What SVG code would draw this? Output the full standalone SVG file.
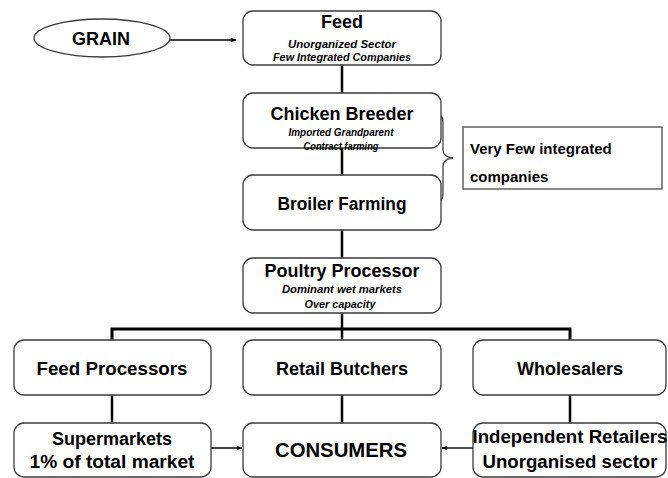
<svg xmlns="http://www.w3.org/2000/svg" width="668" height="478" viewBox="0 0 668 478">
  <style>
    .box { fill: #ffffff; stroke: #3a3a3a; stroke-width: 1.3; }
    .title { font-family: "Liberation Sans", Arial, sans-serif; font-weight: bold; font-size: 18px; fill: #000; text-anchor: middle; }
    .sub { font-family: "Liberation Sans", Arial, sans-serif; font-weight: bold; font-style: italic; font-size: 10px; fill: #000; text-anchor: middle; }
    .note { font-family: "Liberation Sans", Arial, sans-serif; font-weight: bold; font-size: 15px; fill: #000; }
    .link { fill: none; stroke: #000; stroke-width: 2.5; }
    .bus { fill: none; stroke: #000; stroke-width: 3; }
    .arrow { fill: none; stroke: #000; stroke-width: 1.4; marker-end: url(#head); }
    .brace { fill: none; stroke: #444; stroke-width: 1.3; }
  </style>
  <defs>
    <marker id="head" viewBox="0 0 10 10" refX="9" refY="5" markerWidth="6" markerHeight="6" orient="auto" markerUnits="userSpaceOnUse">
      <path d="M0,1 L10,5 L0,9 Z" fill="#000"/>
    </marker>
  </defs>

  <!-- connectors -->
  <g id="connectors">
    <line class="arrow" x1="170" y1="40" x2="236" y2="40"/>
    <line class="link" x1="342" y1="65" x2="342" y2="93"/>
    <line class="link" x1="342" y1="148" x2="342" y2="175"/>
    <line class="link" x1="342" y1="230" x2="342" y2="258"/>
    <line class="link" x1="342" y1="313" x2="342" y2="329"/>
    <polyline class="bus" points="112,340 112,329 570,329 570,340"/>
    <line class="link" x1="342" y1="329" x2="342" y2="340"/>
    <line class="link" x1="112" y1="395" x2="112" y2="423"/>
    <line class="link" x1="342" y1="395" x2="342" y2="423"/>
    <line class="link" x1="570" y1="395" x2="570" y2="423"/>
    <line class="arrow" x1="207" y1="448" x2="242" y2="448"/>
    <line class="arrow" x1="473" y1="448" x2="442" y2="448"/>
    <path class="brace" d="M433,112 Q443,113 443,122 L443,150 Q443,157 453,158 Q443,159 443,166 L443,194 Q443,203 433,204"/>
  </g>

  <g id="grain">
    <ellipse class="box" cx="102" cy="38" rx="68" ry="19"/>
    <text class="title" x="101" y="45">GRAIN</text>
  </g>

  <g id="feed">
    <rect class="box" x="243" y="11" width="198" height="54" rx="10"/>
    <text class="title" x="342" y="28">Feed</text>
    <text class="sub" x="342" y="48" textLength="108" lengthAdjust="spacingAndGlyphs">Unorganized Sector</text>
    <text class="sub" x="342" y="61" textLength="138" lengthAdjust="spacingAndGlyphs">Few Integrated Companies</text>
  </g>

  <g id="chicken-breeder">
    <rect class="box" x="243" y="93" width="198" height="55" rx="10"/>
    <text class="title" x="342" y="120">Chicken Breeder</text>
    <text class="sub" x="341" y="136" textLength="105" lengthAdjust="spacingAndGlyphs">Imported Grandparent</text>
    <text class="sub" x="341" y="150" textLength="75" lengthAdjust="spacingAndGlyphs">Contract farming</text>
  </g>

  <g id="broiler-farming">
    <rect class="box" x="243" y="175" width="198" height="55" rx="10"/>
    <text class="title" x="342" y="210" textLength="129" lengthAdjust="spacingAndGlyphs">Broiler Farming</text>
  </g>

  <g id="integrated-note">
    <rect x="463" y="127" width="199" height="62" fill="#ffffff" stroke="#3a3a3a" stroke-width="1.2"/>
    <text class="note" x="470" y="154">Very Few integrated</text>
    <text class="note" x="470" y="182">companies</text>
  </g>

  <g id="poultry-processor">
    <rect class="box" x="243" y="258" width="198" height="55" rx="10"/>
    <text class="title" x="342" y="277">Poultry Processor</text>
    <text class="sub" x="342" y="293" textLength="120" lengthAdjust="spacingAndGlyphs">Dominant wet markets</text>
    <text class="sub" x="340" y="308" textLength="71" lengthAdjust="spacingAndGlyphs">Over capacity</text>
  </g>

  <g id="feed-processors">
    <rect class="box" x="14" y="340" width="197" height="55" rx="10"/>
    <text class="title" x="112" y="375" textLength="151" lengthAdjust="spacingAndGlyphs">Feed Processors</text>
  </g>

  <g id="retail-butchers">
    <rect class="box" x="243" y="340" width="198" height="55" rx="10"/>
    <text class="title" x="342" y="375">Retail Butchers</text>
  </g>

  <g id="wholesalers">
    <rect class="box" x="473" y="340" width="193" height="55" rx="10"/>
    <text class="title" x="570" y="375">Wholesalers</text>
  </g>

  <g id="supermarkets">
    <rect class="box" x="14" y="423" width="197" height="54" rx="10"/>
    <text class="title" x="112" y="445">Supermarkets</text>
    <text class="title" x="112" y="468" textLength="165" lengthAdjust="spacingAndGlyphs">1% of total market</text>
  </g>

  <g id="consumers">
    <rect class="box" x="243" y="423" width="198" height="54" rx="10"/>
    <text class="title" x="341" y="457" style="font-size:20px" textLength="132" lengthAdjust="spacingAndGlyphs">CONSUMERS</text>
  </g>

  <g id="independent-retailers">
    <rect class="box" x="473" y="423" width="193" height="54" rx="10"/>
    <text class="title" x="570" y="443" textLength="195" lengthAdjust="spacingAndGlyphs">Independent Retailers</text>
    <text class="title" x="570" y="468" textLength="175" lengthAdjust="spacingAndGlyphs">Unorganised sector</text>
  </g>
</svg>
